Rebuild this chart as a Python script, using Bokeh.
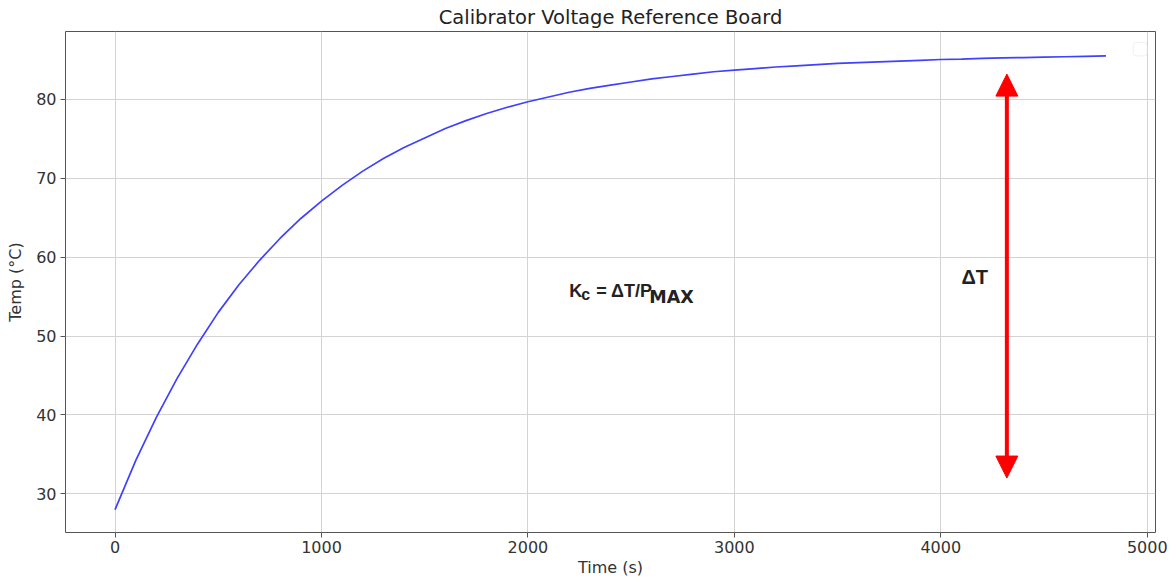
from bokeh.plotting import figure
from bokeh.models import Range1d, FixedTicker, Arrow, NormalHead, Label, BoxAnnotation, ColumnDataSource
from bokeh.embed import file_html
from bokeh.resources import INLINE

# ---- data ----
time_s = [0, 100, 200, 300, 400, 500, 600, 700, 800, 900,
          1000, 1100, 1200, 1300, 1400, 1500, 1600, 1700, 1800, 1900,
          2000, 2100, 2200, 2300, 2400, 2500, 2600, 2700, 2800, 2900,
          3000, 3100, 3200, 3300, 3400, 3500, 3600, 3700, 3800, 3900,
          4000, 4100, 4200, 4300, 4400, 4500, 4600, 4700, 4800]
temp_c = [28.0, 34.2, 39.7, 44.6, 49.0, 53.0, 56.5, 59.6, 62.4, 64.9,
          67.1, 69.1, 70.9, 72.5, 73.9, 75.1, 76.3, 77.3, 78.2, 79.0,
          79.7, 80.3, 80.9, 81.4, 81.8, 82.2, 82.6, 82.9, 83.2, 83.5,
          83.7, 83.9, 84.1, 84.25, 84.4, 84.55, 84.65, 84.75, 84.85, 84.95,
          85.05, 85.1, 85.2, 85.25, 85.3, 85.35, 85.4, 85.45, 85.5]
x_ticks = [0, 1000, 2000, 3000, 4000, 5000]
y_ticks = [30, 40, 50, 60, 70, 80]
arrow_x = 4320
arrow_y = [32, 83.2]
dt_pos = (4100, 57.5)
kc_pos = (2200, 55.7)

p = figure(width=1168, height=580, output_backend="svg", toolbar_location=None,
           x_range=Range1d(-240, 5040), y_range=Range1d(25.1, 88.6),
           title="Calibrator Voltage Reference Board",
           min_border_left=65, min_border_right=13, min_border_top=31, min_border_bottom=48)
p.background_fill_color = "white"
p.border_fill_color = "white"
p.outline_line_color = "#555555"
p.outline_line_width = 1

p.title.text_font = "DejaVu Sans"
p.title.text_font_size = "19.5px"
p.title.text_font_style = "normal"
p.title.text_color = "#222222"
p.title.align = "center"
p.title.standoff = 5

for ax in (p.xaxis, p.yaxis):
    ax.axis_line_color = None
    ax.major_tick_in = 0
    ax.major_tick_out = 5
    ax.major_tick_line_color = "#555555"
    ax.minor_tick_line_color = None
    ax.major_label_text_font = "DejaVu Sans"
    ax.major_label_text_font_size = "16px"
    ax.major_label_text_color = "#333333"
    ax.axis_label_text_font = "DejaVu Sans"
    ax.axis_label_text_font_size = "16px"
    ax.axis_label_text_font_style = "normal"
    ax.axis_label_text_color = "#333333"

p.xaxis.ticker = FixedTicker(ticks=x_ticks)
p.yaxis.ticker = FixedTicker(ticks=y_ticks)
p.xaxis.axis_label = "Time (s)"
p.yaxis.axis_label = "Temp (°C)"
p.xaxis.axis_label_standoff = 2
p.yaxis.axis_label_standoff = 8
p.xaxis.major_label_standoff = 3
p.yaxis.major_label_standoff = 4

p.xgrid.ticker = FixedTicker(ticks=x_ticks)
p.ygrid.ticker = FixedTicker(ticks=y_ticks)
for g in (p.xgrid, p.ygrid):
    g.grid_line_color = "#d3d3d3"
    g.grid_line_width = 1

src = ColumnDataSource(dict(t=time_s, T=temp_c))
p.line("t", "T", source=src, line_color="#4040ff", line_width=1.7)

arrow = Arrow(x_start=arrow_x, y_start=arrow_y[0], x_end=arrow_x, y_end=arrow_y[1],
              line_color="red", line_width=4,
              start=NormalHead(size=22, fill_color="red", line_color="red", line_width=1),
              end=NormalHead(size=22, fill_color="red", line_color="red", line_width=1))
p.add_layout(arrow)

bold = dict(text_font_style="bold", text_color="#222222", text_baseline="alphabetic")
p.add_layout(Label(x=dt_pos[0], y=dt_pos[1], text="ΔT", text_font_size="20px",
                   text_font="Liberation Sans", **bold))

# K_c = ΔT / P_MAX  (built from pieces to mimic sub-scripts)
kc_parts = [("K", 0, 0, "18px", "Liberation Sans"),
            ("c", 12, -3, "16px", "Liberation Sans"),
            ("= ΔT/P", 27, 0, "18px", "Liberation Sans"),
            ("MAX", 80, -6, "17.5px", "DejaVu Sans")]
for txt, dx, dy, fs, fnt in kc_parts:
    p.add_layout(Label(x=kc_pos[0], y=kc_pos[1], x_offset=dx, y_offset=dy, text=txt,
                       text_font_size=fs, text_font=fnt, **bold))

# empty legend frame (top-right corner)
p.add_layout(BoxAnnotation(left=4932, right=5000, top=87.2, bottom=85.5,
                           fill_color="white", fill_alpha=1, line_color="#cccccc",
                           line_width=1, border_radius=3))

open("out.html", "w").write(file_html(p, INLINE))
